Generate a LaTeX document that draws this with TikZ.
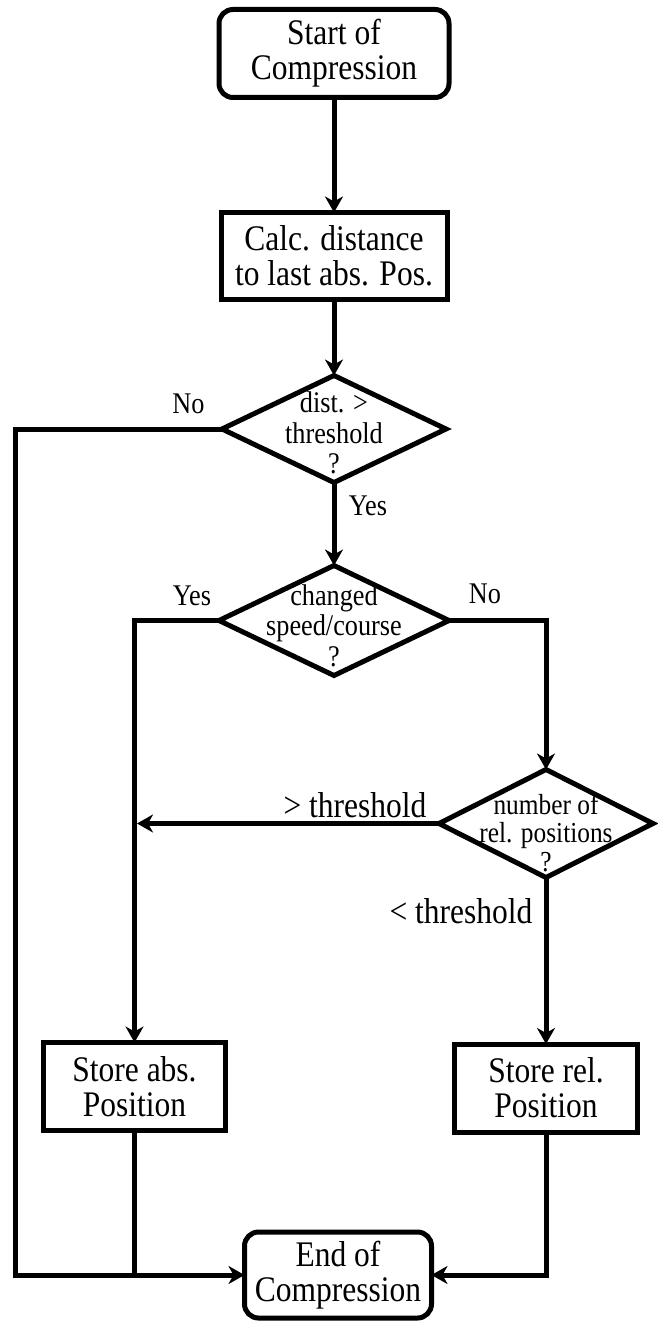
\documentclass[tikz,border=0pt]{standalone}
\usepackage{fontspec}
\setmainfont{Liberation Serif}[FakeStretch=0.875]
\usetikzlibrary{arrows.meta,shapes.geometric}
\begin{document}
\begin{tikzpicture}[x=1pt,y=-1pt,
  line width=5pt,
  every node/.style={inner sep=0pt, outer sep=0pt},
  proc/.style={draw, rectangle, align=center, font=\fontsize{36}{35}\selectfont},
  term/.style={proc, rounded corners=14pt},
  decision/.style={draw, diamond},
  dtext/.style={align=center, font=\fontsize{30}{30.5}\selectfont},
  lbl/.style={anchor=base, font=\fontsize{30}{30}\selectfont},
  biglbl/.style={anchor=base, font=\fontsize{36}{36}\selectfont},
  flow/.style={-{Stealth[length=16pt,width=18pt,inset=5pt]}},
  link/.style={-}
]
\useasboundingbox (0,0) rectangle (657,1321);

% boxes
\node[term, minimum width=230pt, minimum height=88pt] (start) at (334,53.5) {Start of\\Compression};
\node[proc, minimum width=226pt, minimum height=87pt] (calc) at (334,256) {Calc. distance\\to last abs. Pos.};

% decisions (text set in separate nodes so it may reach the outline)
\node[decision, minimum width=224pt, minimum height=107pt] (d1) at (334,429) {};
\node[dtext] at ([yshift=-4pt]d1) {dist. >\\threshold\\?};
\node[decision, minimum width=230pt, minimum height=110pt] (d2) at (334,620.5) {};
\node[dtext] at ([yshift=-5pt]d2) {changed\\speed/course\\?};
\node[decision, minimum width=214pt, minimum height=108pt] (d3) at (546,823.5) {};
\node[dtext, font=\fontsize{29}{28.5}\selectfont] at ([yshift=-9pt]d3) {number of\\rel. positions\\?};

\node[proc, minimum width=182pt, minimum height=88pt] (sabs) at (134.5,1086.5) {Store abs.\\Position};
\node[proc, minimum width=183pt, minimum height=88pt] (srel) at (546,1088) {Store rel.\\Position};
\node[term, minimum width=187pt, minimum height=86pt] (end) at (338,1275) {End of\\Compression};

% connectors
\draw[flow] (start) -- (calc);
\draw[flow] (calc) -- (d1);
\coordinate (farleft) at (15,429);
\draw[flow] (d1.west) -- (farleft) |- (end.west);
\draw[flow] (d1.south) -- (d2.north);
\draw[flow] (d2.west) -| (sabs.north);
\draw[flow] (d2.east) -| (d3.north);
\draw[flow] (d3.west) -- ([xshift=2.5pt]d3.west -| sabs.north);
\draw[flow] (d3.south) -- (srel.north);
\draw[link] (sabs.south) -- (sabs.south |- end.west);
\draw[flow] (srel.south) |- (end.east);

% branch labels
\node[lbl] at (188.5,413) {No};
\node[lbl] at (368,515) {Yes};
\node[lbl] at (192,605) {Yes};
\node[lbl] at (485,603) {No};
\node[biglbl] at (355,817) {> threshold};
\node[biglbl] at (461,923) {< threshold};
\end{tikzpicture}
\end{document}
